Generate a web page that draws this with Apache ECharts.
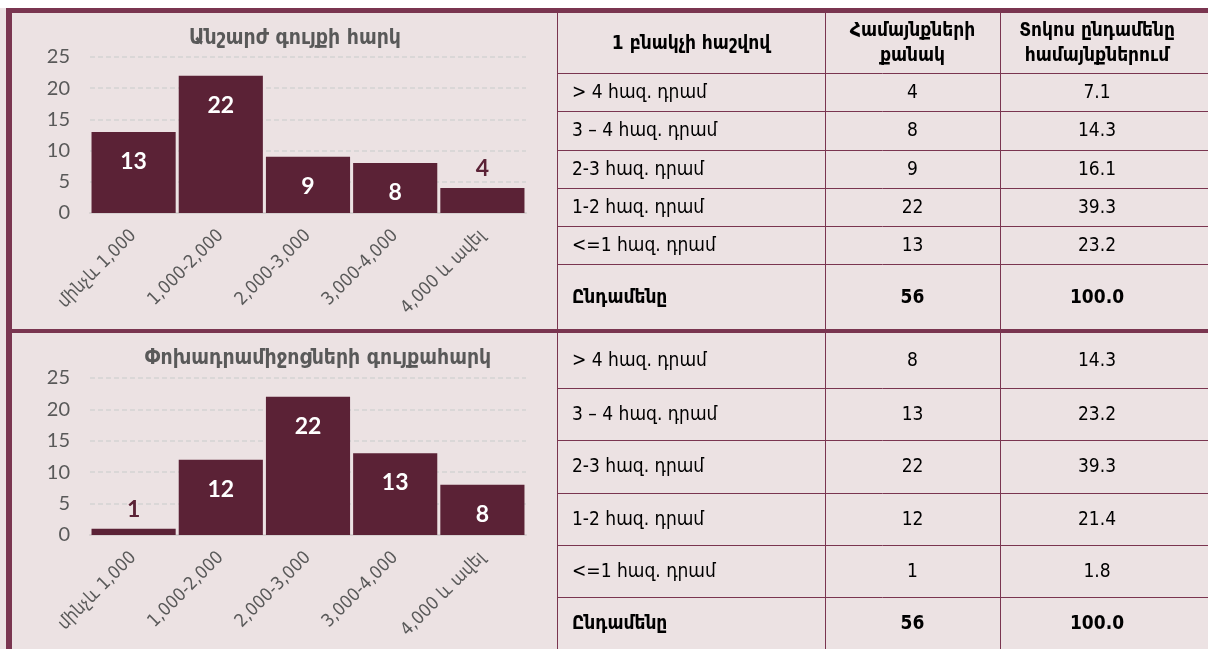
<!DOCTYPE html>
<html>
<head>
<meta charset="utf-8">
<title>Անշարժ գույքի և փոխադրամիջոցների գույքահարկ</title>
<script src="https://cdn.jsdelivr.net/npm/echarts@6/dist/echarts.min.js"></script>
<style>
  html, body { margin: 0; padding: 0; background: #ffffff; }
  #main { width: 1208px; height: 649px; }
</style>
</head>
<body>
<div id="main"></div>
<script>
  // chart categories (per capita, AMD)
  var binLabels = ['մինչև 1,000', '1,000-2,000', '2,000-3,000', '3,000-4,000', '4,000 և ավել'];
  var propertyBins = [13, 22, 9, 8, 4];
  var vehicleBins = [1, 12, 22, 13, 8];
  var yTicks = [0, 5, 10, 15, 20, 25];

  var propertyTitle = 'Անշարժ գույքի հարկ';
  var vehicleTitle = 'Փոխադրամիջոցների գույքահարկ';

  // table
  var headerCells = ['1 բնակչի հաշվով', 'Համայնքների\nքանակ', 'Տոկոս ընդամենը\nհամայնքներում'];
  var rowLabels = ['> 4 հազ. դրամ', '3 – 4 հազ. դրամ', '2-3 հազ. դրամ', '1-2 հազ. դրամ', '<=1 հազ. դրամ'];
  var propertyCounts = [4, 8, 9, 22, 13];
  var propertyShares = ['7.1', '14.3', '16.1', '39.3', '23.2'];
  var vehicleCounts = [8, 13, 22, 12, 1];
  var vehicleShares = ['14.3', '23.2', '39.3', '21.4', '1.8'];
  var totalLabel = 'Ընդամենը';
  var totalCount = 56;
  var totalShare = '100.0';

  var frameColor = '#7a3550';
  var barColor = '#5b2236';
  var textGray = '#595959';
  var tableFont = '"Liberation Sans Narrow", "DejaVu Sans Condensed", sans-serif';
  var armFont = '"DejaVu Sans Condensed", sans-serif';

  var chart = echarts.init(document.getElementById('main'));

  function barData (values) {
    return values.map(function (v) {
      // short bars get the label above the bar
      if (v < 5) {
        return {
          value: v,
          label: { position: 'top', distance: 8, color: barColor }
        };
      }
      return { value: v };
    });
  }

  function makeSeries (idx, values) {
    return {
      type: 'bar',
      xAxisIndex: idx,
      yAxisIndex: idx,
      data: barData(values),
      barCategoryGap: '3.5%',
      itemStyle: { color: barColor },
      label: {
        show: true,
        position: 'insideTop',
        distance: 18,
        color: '#ffffff',
        fontSize: 23,
        fontWeight: 'bold',
        fontFamily: 'Lato'
      }
    };
  }

  function makeX (idx) {
    return {
      type: 'category',
      gridIndex: idx,
      data: binLabels,
      axisTick: { show: false },
      axisLine: { lineStyle: { color: '#d6d0d0', width: 2 } },
      axisLabel: {
        interval: 0,
        rotate: 45,
        margin: 20,
        color: textGray,
        fontSize: 18,
        fontFamily: armFont
      }
    };
  }

  function makeY (idx) {
    return {
      type: 'value',
      gridIndex: idx,
      min: yTicks[0],
      max: yTicks[yTicks.length - 1],
      interval: yTicks[1] - yTicks[0],
      axisLine: { show: false },
      axisTick: { show: false },
      axisLabel: {
        margin: 20,
        color: textGray,
        fontSize: 20,
        fontFamily: 'Lato'
      },
      splitLine: {
        lineStyle: { color: '#d3d3d3', type: [5, 3], width: 1.5 }
      }
    };
  }

  // table geometry
  var colX = [557, 825, 1000, 1208];
  var topRows = [13, 73, 111, 150, 188, 226, 264, 330];
  var bottomRows = [333, 388, 440, 493, 545, 597, 649];

  var graphics = [];

  // white strip above frame
  graphics.push({ type: 'rect', shape: { x: 0, y: 0, width: 1208, height: 8 }, style: { fill: '#ffffff' }, silent: true });

  function hLine (y, x1, x2) {
    graphics.push({ type: 'line', shape: { x1: x1, y1: y + 0.5, x2: x2, y2: y + 0.5 }, style: { stroke: frameColor, lineWidth: 1 }, silent: true });
  }
  function vLine (x, y1, y2) {
    graphics.push({ type: 'line', shape: { x1: x + 0.5, y1: y1, x2: x + 0.5, y2: y2 }, style: { stroke: frameColor, lineWidth: 1 }, silent: true });
  }
  function cellText (text, x, y, align, bold) {
    graphics.push({
      type: 'text',
      silent: true,
      style: {
        text: text,
        x: x,
        y: y,
        align: align,
        verticalAlign: 'middle',
        fill: '#000000',
        fontSize: 19,
        lineHeight: 25,
        fontWeight: bold ? 'bold' : 'normal',
        fontFamily: tableFont
      }
    });
  }

  function drawTable (rows, counts, shares, withHeader) {
    var i;
    for (i = 1; i < rows.length - 1; i++) {
      hLine(rows[i], colX[0], colX[3]);
    }
    vLine(colX[0], rows[0], rows[rows.length - 1]);
    vLine(colX[1], rows[0], rows[rows.length - 1]);
    vLine(colX[2], rows[0], rows[rows.length - 1]);
    var start = 0;
    if (withHeader) {
      var hy = (rows[0] + rows[1]) / 2 + 1;
      cellText(headerCells[0], (colX[0] + colX[1]) / 2, hy, 'center', true);
      cellText(headerCells[1], (colX[1] + colX[2]) / 2, hy, 'center', true);
      cellText(headerCells[2], (colX[2] + colX[3]) / 2 - 7, hy, 'center', true);
      start = 1;
    }
    for (i = 0; i < rowLabels.length; i++) {
      var cy = (rows[start + i] + rows[start + i + 1]) / 2 + 1;
      cellText(rowLabels[i], colX[0] + 15, cy, 'left', false);
      cellText(String(counts[i]), (colX[1] + colX[2]) / 2, cy, 'center', false);
      cellText(shares[i], (colX[2] + colX[3]) / 2 - 7, cy, 'center', false);
    }
    var ty = (rows[start + rowLabels.length] + rows[start + rowLabels.length + 1]) / 2 + 1;
    cellText(totalLabel, colX[0] + 15, ty, 'left', true);
    cellText(String(totalCount), (colX[1] + colX[2]) / 2, ty, 'center', true);
    cellText(totalShare, (colX[2] + colX[3]) / 2 - 7, ty, 'center', true);
  }

  drawTable(topRows, propertyCounts, propertyShares, true);
  drawTable(bottomRows, vehicleCounts, vehicleShares, false);

  // frame: top, left, middle divider
  graphics.push({ type: 'rect', shape: { x: 6, y: 8, width: 1202, height: 5 }, style: { fill: frameColor }, silent: true });
  graphics.push({ type: 'rect', shape: { x: 6, y: 8, width: 6, height: 641 }, style: { fill: frameColor }, silent: true });
  graphics.push({ type: 'rect', shape: { x: 6, y: 329, width: 1202, height: 4 }, style: { fill: frameColor }, silent: true });

  var titleStyle = { color: textGray, fontSize: 21, fontWeight: 'bold', fontFamily: armFont };

  var option = {
    backgroundColor: '#ece2e3',
    animation: false,
    title: [
      { text: propertyTitle, left: 290, top: 23, textAlign: 'center', textStyle: titleStyle },
      { text: vehicleTitle, left: 313, top: 343, textAlign: 'center', textStyle: titleStyle }
    ],
    grid: [
      { left: 90, top: 57, width: 436, height: 156 },
      { left: 90, top: 378, width: 436, height: 157 }
    ],
    xAxis: [makeX(0), makeX(1)],
    yAxis: [makeY(0), makeY(1)],
    series: [makeSeries(0, propertyBins), makeSeries(1, vehicleBins)],
    graphic: graphics
  };

  chart.setOption(option);
</script>
</body>
</html>
